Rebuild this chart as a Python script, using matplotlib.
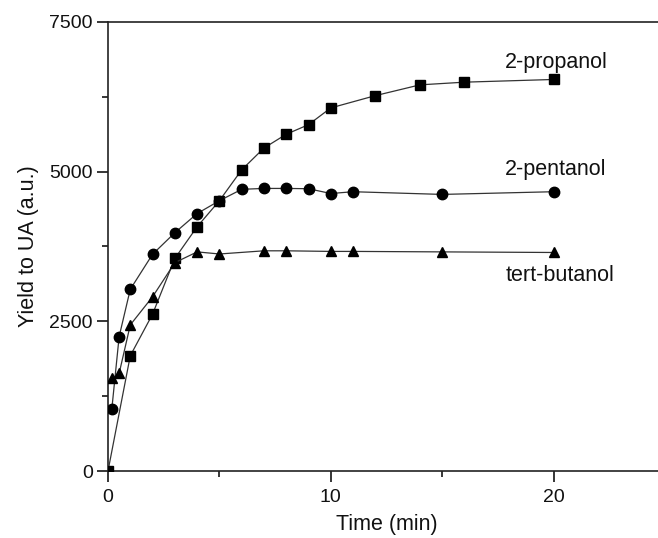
import matplotlib
matplotlib.use("Agg")
import matplotlib.pyplot as plt
from matplotlib.ticker import MultipleLocator

plt.rcParams['font.family'] = ['Liberation Sans', 'DejaVu Sans']

t_prop = [0, 1, 2, 3, 4, 5, 6, 7, 8, 9, 10, 12, 14, 16, 20]
y_prop = [0, 1925, 2620, 3550, 4080, 4515, 5030, 5395, 5625, 5785, 6065, 6270, 6450, 6495, 6540]

t_pent = [0.17, 0.5, 1, 2, 3, 4, 5, 6, 7, 8, 9, 10, 11, 15, 20]
y_pent = [1030, 2245, 3035, 3620, 3980, 4300, 4515, 4705, 4720, 4720, 4715, 4635, 4665, 4620, 4665]

t_tert = [0.2, 0.5, 1, 2, 3, 4, 5, 7, 8, 10, 11, 15, 20]
y_tert = [1550, 1630, 2440, 2910, 3480, 3660, 3625, 3678, 3678, 3668, 3668, 3660, 3650]

labels = ["2-propanol", "2-pentanol", "tert-butanol"]
label_x = [20.1, 20.1, 20.3]
label_y = [6830, 5040, 3270]

fig = plt.figure(figsize=(6.58, 5.38), dpi=100)
ax = fig.add_axes([108/658, 1 - 471/538, (665 - 108)/658, (471 - 22)/538])

lc = '#333333'
ax.plot(t_prop, y_prop, '-', color=lc, lw=0.9, marker='s', ms=6.5, mfc='black', mec='black', zorder=3)
ax.plot(t_pent, y_pent, '-', color=lc, lw=0.9, marker='o', ms=7.5, mfc='black', mec='black', zorder=3)
ax.plot(t_tert, y_tert, '-', color=lc, lw=0.9, marker='^', ms=7.5, mfc='black', mec='black', zorder=3)

for lab, lx, ly in zip(labels, label_x, label_y):
    ax.text(lx, ly, lab, fontsize=15.5, ha='center', va='center', color='#111111')

ax.set_xlim(0, 25)
ax.set_ylim(0, 7500)
ax.xaxis.set_major_locator(MultipleLocator(10))
ax.xaxis.set_minor_locator(MultipleLocator(5))
ax.yaxis.set_major_locator(MultipleLocator(2500))
ax.yaxis.set_minor_locator(MultipleLocator(1250))
ax.tick_params(which='major', direction='out', length=8, width=1.1, labelsize=14, pad=5, labelcolor='#111111')
ax.tick_params(axis='y', which='major', pad=3)
ax.tick_params(which='minor', direction='out', length=4, width=1.1)
for s in ax.spines.values():
    s.set_linewidth(1.2)
    s.set_color('#222222')
ax.set_xlabel("Time (min)", fontsize=15.5, labelpad=6, color='#111111')
ax.set_ylabel("Yield to UA (a.u.)", fontsize=15.5, color='#111111')
ax.yaxis.set_label_coords(-0.123, 0.5)

fig.savefig("out.png", dpi=100)
